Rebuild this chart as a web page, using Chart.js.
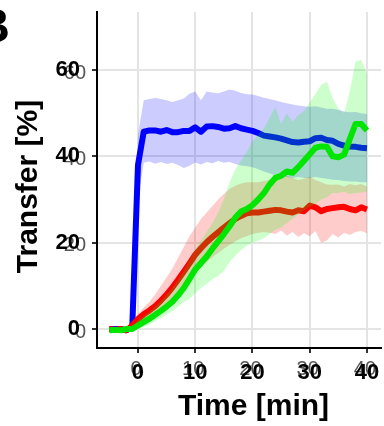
<!DOCTYPE html>
<html><head><meta charset="utf-8">
<script src="https://cdn.jsdelivr.net/npm/chart.js@4"></script>
<style>html,body{margin:0;padding:0;background:#fff;overflow:hidden}</style>
</head><body>
<canvas id="c" width="384" height="426" style="display:block;width:384px;height:426px"></canvas>
<script>
// ---- data (time in minutes, transfer in %) ----
const time = [-5,-4,-3,-2,-1,0,1,2,3,4,5,6,7,8,9,10,11,12,13,14,15,16,17,18,19,20,21,22,23,24,25,26,27,28,29,30,31,32,33,34,35,36,37,38,39,40];

const blueMean = [0,0,0,-0.3,0.5,38,45.7,46,46,45.7,46.1,45.6,45.6,45.9,45.9,46.7,45.7,46.9,47,46.8,46.4,46.5,47,46.5,46.2,45.9,45.4,44.8,44.6,44.4,44.1,43.7,43.3,43.2,43.4,43.5,44.2,44.3,43.8,43.6,42.9,42.5,42.3,42.2,42,41.9];
const blueLow  = [-0.5,-0.5,-0.5,-0.8,0,30,38.5,38.8,38.3,38.7,38.2,38.5,38,37.3,37.8,38.6,38.1,38.7,38.4,38.9,38.5,38.7,38.2,37.9,37.7,37.5,37,36.5,36,35.6,35.3,35.2,35,35.2,35,35,35.2,35,34.8,34.6,34.5,34.3,34.2,34.2,34,34];
const blueHigh = [0.5,0.5,0.5,0.2,1,45,53,53.3,53.5,53.3,53,52.6,53,53.4,54.5,55,53,55,54.8,54.6,55,55.5,55.2,54.7,54.4,54.3,54,53.6,53.3,53,52.6,52.3,52,51.8,51.6,51.5,51.6,51.3,51,51,50.8,50.4,50.2,50.3,50,49.8];

const redMean = [0,-0.2,0,-0.3,0.8,2.3,3.4,4.3,5.3,6.6,8,9.6,11.4,13.3,15.2,17.2,18.7,20.1,21.3,22.4,23.5,24.5,25.5,26.2,26.8,27,27,27.2,27.4,27.6,27.5,27.2,27,27.5,27.3,28.6,28.2,27.3,27.8,28,28.2,28.3,27.8,27.5,28.2,27.7];
const redLow  = [-0.6,-0.8,-0.6,-0.9,0.2,1.5,2.3,3,3.8,4.8,5.8,7,8.5,10,11.5,13,14.3,15.5,16.6,17.6,18.6,19.5,20.3,21,21.5,22,22.3,22.5,22.3,22,22.8,21.6,22.5,21.3,22.2,21.5,22.7,20,20.5,22,21.2,22.3,21.8,22.5,22.7,22.2];
const redHigh = [0.6,0.4,0.6,0.3,1.4,3.5,5,6.3,8,10,12,14,16.5,19,21.5,23.5,25.5,27,28.5,30,31.3,32.5,33.2,33.7,34,34,34,34.3,34.6,35,35.3,35.5,35,34.5,34.8,35.3,34.5,34,33.5,33.4,33.5,33,33.6,33.3,33.6,33];

const greenMean = [-0.3,-0.2,-0.3,0,0,0.8,1.6,2.4,3.3,4.2,5.2,6.3,7.8,9.5,11.6,13.8,15.3,16.8,18.6,20.3,22,23.8,25.8,27.2,27.8,28.7,30,31.5,33.5,35,35.5,36.5,36.2,37.5,39,40.5,42,42.3,42.2,40,39.8,40.4,44,47.5,47.5,46];
const greenLow  = [-0.8,-0.7,-0.8,-0.5,-0.5,0,0.5,1,1.8,2.5,3.3,4.2,5.2,6.2,7,8.3,9.5,10.5,11.5,12.3,13.5,15.5,17,18.3,19.3,20,20.5,21,22,23,23.5,24.5,25.5,26.5,27.5,28.3,29,30,30.5,31.5,31.5,31.8,31.2,31.5,31.6,31.8];
const greenHigh = [0.2,0.3,0.2,0.5,0.5,2,3,4,5.3,6.5,8,9.5,11.5,13.5,16,18.5,20.5,22.5,24.5,27,30,34,37,39,41,43.5,45,46.5,49,51.5,47.5,50,48,49.5,50.5,52.5,54.5,56.5,57.3,53.5,51,50,55,62,62.3,59];

const xTicks = [0,10,20,30,40];
const yTicks = [0,20,40,60];
const xTitle = 'Time [min]';
const yTitle = 'Transfer [%]';
const panelLabel = 'B';

// ---- chart ----
const FONT = '"Liberation Sans", Arial, Helvetica, sans-serif';
const pts = arr => time.map((t, i) => ({x: t, y: arr[i]}));

function band(lo, hi, color, loIdx, order) {
  return [
    {data: pts(lo), borderWidth: 0, pointRadius: 0, fill: false, order: order + 1},
    {data: pts(hi), borderWidth: 0, pointRadius: 0, backgroundColor: color, fill: {target: loIdx}, order: order}
  ];
}
function line(arr, color, order) {
  return {data: pts(arr), borderColor: color, borderWidth: 6, pointRadius: 0, fill: false,
          tension: 0, borderJoinStyle: 'round', order: order};
}

const datasets = [
  ...band(blueLow, blueHigh, 'rgba(0,0,255,0.2)', 0, 8),
  line(blueMean, '#0000ff', 7),
  ...band(redLow, redHigh, 'rgba(255,0,0,0.2)', 3, 5),
  line(redMean, '#ff0000', 4),
  ...band(greenLow, greenHigh, 'rgba(0,255,0,0.2)', 6, 2),
  line(greenMean, '#00e600', 1)
];

const deco = {
  id: 'deco',
  beforeDraw(chart) {
    const ctx = chart.ctx, xs = chart.scales.x, ys = chart.scales.y;
    ctx.save();
    ctx.fillStyle = '#555';
    ctx.font = '20px ' + FONT;
    ctx.textAlign = 'right'; ctx.textBaseline = 'middle';
    yTicks.forEach(v => ctx.fillText(String(v), 86, ys.getPixelForValue(v) + 3));
    ctx.textAlign = 'center';
    xTicks.forEach(v => ctx.fillText(String(v), xs.getPixelForValue(v) - 2, 369));
    ctx.restore();
  },
  afterDraw(chart) {
    const ctx = chart.ctx;
    ctx.save();
    ctx.fillStyle = '#000';
    ctx.font = 'bold 30px ' + FONT;
    ctx.textAlign = 'center'; ctx.textBaseline = 'alphabetic';
    ctx.fillText(xTitle, 253.5, 415);
    ctx.translate(37, 186.5);
    ctx.rotate(-Math.PI / 2);
    ctx.fillText(yTitle, 0, 0);
    ctx.restore();
    ctx.save();
    ctx.fillStyle = '#000';
    ctx.font = 'bold 48px ' + FONT;
    ctx.textAlign = 'right'; ctx.textBaseline = 'alphabetic';
    ctx.fillText(panelLabel, 10, 42);
    ctx.restore();
  }
};

new Chart(document.getElementById('c'), {
  type: 'line',
  data: {datasets},
  plugins: [deco],
  options: {
    responsive: false,
    devicePixelRatio: 1,
    animation: false,
    events: [],
    layout: {padding: {left: 0, right: 3, top: 12, bottom: 0}},
    plugins: {legend: {display: false}, tooltip: {enabled: false}},
    scales: {
      x: {
        type: 'linear', min: -7.16, max: 42.45,
        afterBuildTicks: s => { s.ticks = xTicks.map(v => ({value: v})); },
        afterFit: s => { s.height = 78; s.paddingLeft = 0; s.paddingRight = 0; },
        grid: {color: '#e4e4e4', lineWidth: 2, tickLength: 5, tickColor: '#333', tickWidth: 2},
        border: {color: '#000', width: 2},
        ticks: {color: '#000', font: {family: FONT, size: 22, weight: 'bold'}, padding: 7, maxRotation: 0}
      },
      y: {
        type: 'linear', min: -4.4, max: 73.44,
        afterBuildTicks: s => { s.ticks = yTicks.map(v => ({value: v})); },
        afterFit: s => { s.width = 97; s.paddingTop = 0; s.paddingBottom = 0; },
        grid: {color: '#e4e4e4', lineWidth: 2, tickLength: 5, tickColor: '#333', tickWidth: 2},
        border: {color: '#000', width: 2},
        ticks: {color: '#000', font: {family: FONT, size: 22, weight: 'bold'}, padding: 12}
      }
    }
  }
});
</script>
</body></html>
